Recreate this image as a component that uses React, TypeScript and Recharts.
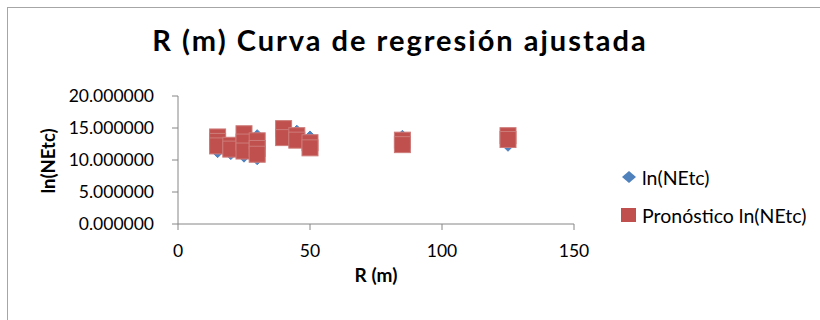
import React from 'react';
import { ScatterChart, Scatter, XAxis, YAxis, Legend, Label } from 'recharts';

// R (m) for each observation
const rValues = [15, 15, 15, 20, 20, 25, 25, 25, 30, 30, 30, 40, 40, 45, 45, 50, 50, 85, 85, 125, 125];
// observed ln(NEtc)
const observed = [11.3, 12.6, 13.1, 11.0, 12.0, 10.6, 12.4, 13.6, 13.8, 10.2, 12.1, 14.2, 13.9, 14.5, 13.4, 13.6, 12.3, 13.7, 12.8, 12.3, 13.5];
// predicted ln(NEtc)
const predicted = [13.6, 12.9, 12.2, 12.3, 11.7, 14.1, 12.8, 11.4, 13.0, 11.8, 10.9, 14.9, 13.5, 13.8, 13.1, 12.7, 11.9, 13.1, 12.4, 13.8, 13.2];

const xTicks = [0, 50, 100, 150];
const yTicks = [0, 5, 10, 15, 20];

const BLUE = '#4f81bd';
const RED = '#c0504d';
const FONT = 'Lato, "Open Sans", sans-serif';

const obsData = rValues.map((r, i) => ({ r, v: observed[i] }));
const predData = rValues.map((r, i) => ({ r, v: predicted[i] }));

const Diamond = (props: any) => {
  const { cx, cy } = props;
  const s = 6;
  return <polygon points={`${cx},${cy - s} ${cx + s},${cy} ${cx},${cy + s} ${cx - s},${cy}`} fill={BLUE} stroke={BLUE} />;
};

const Square = (props: any) => {
  const { cx, cy } = props;
  return <rect x={cx - 8} y={cy - 8} width={16} height={16} fill={RED} stroke="#cd7b79" strokeWidth={1} />;
};

const LegendContent = () => (
  <div style={{ fontFamily: FONT, fontSize: 19.5, color: '#000' }}>
    <div style={{ display: 'flex', alignItems: 'center', height: 26, marginBottom: 12 }}>
      <svg width={21} height={16}>
        <polygon points="8,2 15,8 8,14 1,8" fill={BLUE} />
      </svg>
      <span>ln(NEtc)</span>
    </div>
    <div style={{ display: 'flex', alignItems: 'center', height: 26 }}>
      <svg width={21} height={16}>
        <rect x={0} y={1} width={15} height={14} fill={RED} />
      </svg>
      <span>Pronóstico ln(NEtc)</span>
    </div>
  </div>
);

export default function App() {
  return (
    <div style={{ position: 'absolute', left: 0, top: 0, width: 820, height: 320, background: '#fff', overflow: 'hidden' }}>
      <div style={{ position: 'absolute', left: 7, top: 7, width: 900, height: 400, border: '1px solid #a6a6a6' }} />
      <div style={{ position: 'absolute', left: 0, top: 23, width: 800, textAlign: 'center', fontFamily: FONT, fontWeight: 700, fontSize: 29, letterSpacing: 2, lineHeight: '34px', color: '#000' }}>
        R (m) Curva de regresión ajustada
      </div>
      <div style={{ position: 'absolute', left: 0, top: 0 }}>
        <ScatterChart width={820} height={320} margin={{ top: 96, right: 246, bottom: 36, left: 58 }}>
          <XAxis
            type="number"
            dataKey="r"
            domain={[0, 150]}
            ticks={xTicks}
            height={60}
            stroke="#868686"
            tickSize={6}
            tickMargin={15}
            tick={{ fill: '#000', fontSize: 17.5, fontFamily: FONT }}
          >
            <Label
              content={() => (
                <text x={376} y={282} textAnchor="middle" fontFamily={FONT} fontWeight={700} fontSize={19} fill="#000">
                  R (m)
                </text>
              )}
            />
          </XAxis>
          <YAxis
            type="number"
            dataKey="v"
            domain={[0, 20]}
            ticks={yTicks}
            width={120}
            stroke="#868686"
            tickSize={6}
            tickMargin={18}
            tickFormatter={(v) => Number(v).toFixed(6)}
            tick={{ fill: '#000', fontSize: 17.5, fontFamily: FONT }}
          >
            <Label
              content={() => (
                <text x={55} y={161} transform="rotate(-90 55 161)" textAnchor="middle" fontFamily={FONT} fontWeight={700} fontSize={18.5} fill="#000">
                  ln(NEtc)
                </text>
              )}
            />
          </YAxis>
          <Legend
            layout="vertical"
            align="center"
            verticalAlign="middle"
            wrapperStyle={{ left: 621, top: 164, width: 200 }}
            content={<LegendContent />}
          />
          <Scatter name="ln(NEtc)" data={obsData} fill={BLUE} shape={<Diamond />} isAnimationActive={false} />
          <Scatter name="Pronóstico ln(NEtc)" data={predData} fill={RED} shape={<Square />} isAnimationActive={false} />
        </ScatterChart>
      </div>
    </div>
  );
}
